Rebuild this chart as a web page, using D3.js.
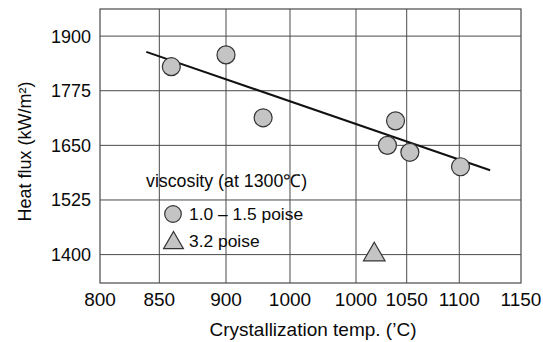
<!DOCTYPE html>
<html>
<head>
<meta charset="utf-8">
<script src="https://cdn.jsdelivr.net/npm/d3@7"></script>
<style>
  html, body { margin: 0; padding: 0; background: #fff; }
  svg { display: block; }
  text { font-family: "Liberation Sans", Arial, Helvetica, sans-serif; fill: #0a0a0a; }
</style>
</head>
<body>
<svg id="chart" width="543" height="342"></svg>
<script>
// ---- data ----
const xTickValues = [800, 850, 900, 950, 1000, 1050, 1100, 1150];
const xTickLabels = ["800", "850", "900", "1000", "1000", "1050", "1100", "1150"];
const yTickValues = [1400, 1525, 1650, 1775, 1900];
const circleTemps = [859, 900, 929, 1039, 1031, 1053, 1101];
const circleFlux  = [1830, 1857, 1713, 1706, 1650, 1634, 1601];
const triangleTemps = [1018];
const triangleFlux  = [1400];
const fitTemps = [839, 1125];
const fitFlux  = [1864, 1593];
const legendTitle = "viscosity (at 1300\u2103)";
const legendLabels = ["1.0 \u2013 1.5 poise", "3.2 poise"];
const xTitle = "Crystallization temp. (\u2019C)";
const yTitle = "Heat flux (kW/m\u00B2)";

// ---- layout ----
const W = 543, H = 342;
const plot = { left: 100, right: 521, top: 9, bottom: 283 };
const gridFrac = [0, 0.1409, 0.2993, 0.4513, 0.6081, 0.7285, 0.8534, 1];
const yDomain = [1335, 1962];

const svg = d3.select("#chart");

const x = d3.scaleLinear()
  .domain(xTickValues)
  .range(gridFrac.map(f => plot.left + f * (plot.right - plot.left)));
const y = d3.scaleLinear().domain(yDomain).range([plot.bottom, plot.top]);

const gridColor = "#4a4a4a";

// grid lines
svg.append("g").selectAll("line.vx")
  .data(xTickValues.slice(1, -1))
  .join("line")
  .attr("x1", d => x(d)).attr("x2", d => x(d))
  .attr("y1", plot.top).attr("y2", plot.bottom)
  .attr("stroke", gridColor).attr("stroke-width", 1);

svg.append("g").selectAll("line.hy")
  .data(yTickValues)
  .join("line")
  .attr("x1", plot.left).attr("x2", plot.right)
  .attr("y1", d => y(d)).attr("y2", d => y(d))
  .attr("stroke", gridColor).attr("stroke-width", 1);

// frame
svg.append("rect")
  .attr("x", plot.left).attr("y", plot.top)
  .attr("width", plot.right - plot.left).attr("height", plot.bottom - plot.top)
  .attr("fill", "none").attr("stroke", gridColor).attr("stroke-width", 1.2);

// axis tick labels
svg.append("g").selectAll("text")
  .data(xTickValues)
  .join("text")
  .attr("x", d => x(d)).attr("y", 306)
  .attr("text-anchor", "middle")
  .attr("font-size", 19)
  .text((d, i) => xTickLabels[i]);

svg.append("g").selectAll("text")
  .data(yTickValues)
  .join("text")
  .attr("x", 91).attr("y", d => y(d) + 6.5)
  .attr("text-anchor", "end")
  .attr("font-size", 18)
  .text(d => d);

// axis titles
svg.append("text")
  .attr("x", 313).attr("y", 336)
  .attr("text-anchor", "middle").attr("font-size", 19)
  .text(xTitle);

svg.append("text")
  .attr("transform", "translate(31, 151.5) rotate(-90)")
  .attr("text-anchor", "middle").attr("font-size", 18)
  .text(yTitle);

// fit line
const fit = fitTemps.map((t, i) => [x(t), y(fitFlux[i])]);
svg.append("path")
  .attr("d", d3.line()(fit))
  .attr("fill", "none").attr("stroke", "#111").attr("stroke-width", 2);

const markFill = "#c4c4c4", markStroke = "#333";

// circles
svg.append("g").selectAll("circle")
  .data(circleTemps.map((t, i) => [t, circleFlux[i]]))
  .join("circle")
  .attr("cx", d => x(d[0])).attr("cy", d => y(d[1]))
  .attr("r", 9)
  .attr("fill", markFill).attr("stroke", markStroke).attr("stroke-width", 1.2);

// triangles
const tri = d3.symbol().type(d3.symbolTriangle).size(200);
svg.append("g").selectAll("path")
  .data(triangleTemps.map((t, i) => [t, triangleFlux[i]]))
  .join("path")
  .attr("d", tri)
  .attr("transform", d => `translate(${x(d[0])}, ${y(d[1])})`)
  .attr("fill", markFill).attr("stroke", markStroke).attr("stroke-width", 1.2);

// legend
const lg = svg.append("g");
lg.append("text").attr("x", 146).attr("y", 187).attr("font-size", 17.8).text(legendTitle);
lg.append("circle").attr("cx", 173).attr("cy", 214).attr("r", 8.3)
  .attr("fill", markFill).attr("stroke", markStroke).attr("stroke-width", 1.2);
lg.append("text").attr("x", 189).attr("y", 220).attr("font-size", 17.4).text(legendLabels[0]);
lg.append("path").attr("d", d3.symbol().type(d3.symbolTriangle).size(170)())
  .attr("transform", "translate(173.5, 243)")
  .attr("fill", markFill).attr("stroke", markStroke).attr("stroke-width", 1.2);
lg.append("text").attr("x", 189).attr("y", 247).attr("font-size", 17.4).text(legendLabels[1]);
</script>
</body>
</html>
